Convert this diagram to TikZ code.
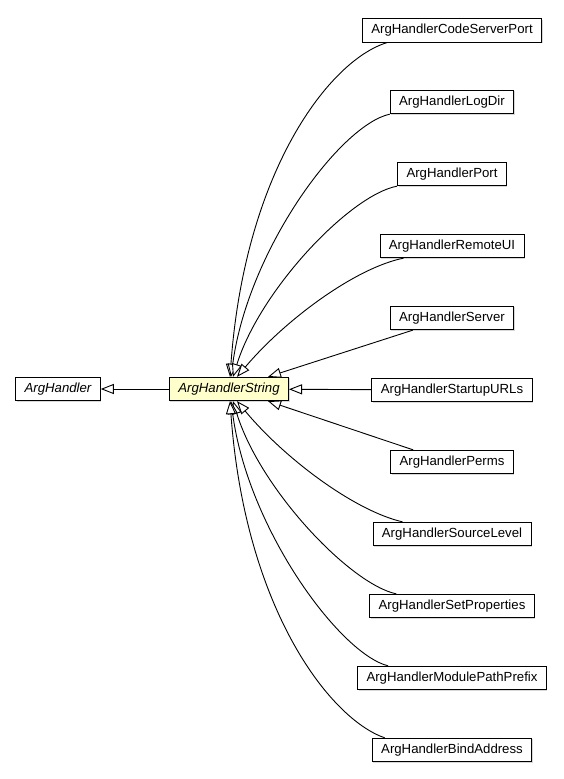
\documentclass[tikz,border=0pt]{standalone}
\usepackage{fontspec}
\setmainfont{Liberation Sans}
\usetikzlibrary{arrows.meta,shadows}
\definecolor{ifacefill}{HTML}{FFFFCC}
\tikzset{
  cls/.style = {draw, line width = .8, fill = white, inner xsep = 9pt, inner ysep = 0pt,
    minimum height = 23.5pt, font = \fontsize{13.2}{15}\selectfont,
    drop shadow = {shadow xshift = 1pt, shadow yshift = -1pt, fill = black!30}},
  inh/.style = {line width = .9, -{Triangle[open, fill = white, length = 13pt, width = 10pt]}}
}
\begin{document}
\begin{tikzpicture}[x = 1pt, y = -1pt]
\useasboundingbox (0,0) rectangle (563,779);
\node[cls, font = \fontsize{13.2}{15}\selectfont\itshape] (ah) at (58,389) {ArgHandler};
\node[cls, fill = ifacefill, font = \fontsize{13.2}{15}\selectfont\itshape] (str) at (229,389) {ArgHandlerString};
\foreach \n/\t/\y in {csp/CodeServerPort/30.5, logdir/LogDir/102, port/Port/174,
    remoteui/RemoteUI/246, server/Server/318, startup/StartupURLs/390, perms/Perms/462,
    srclevel/SourceLevel/534, setprops/SetProperties/606, modprefix/ModulePathPrefix/678,
    bindaddr/BindAddress/750} {
  \node[cls] (\n) at (452,\y) {ArgHandler\t};
}
\draw[inh] (str) -- (ah);
\draw[inh] (startup) -- (str);
% upper half
\draw[inh] ([xshift = 25pt]csp.south west) .. controls (330,60) and (245,170) .. ([xshift = 1pt]str.north);
\draw[inh] (logdir.south west) .. controls (340,125) and (248,250) .. ([xshift = 2pt]str.north);
\draw[inh] (port.south west) .. controls (350,195) and (260,290) .. ([xshift = 4pt]str.north);
\draw[inh] ([xshift = 24pt]remoteui.south west) .. controls (355,268) and (285,320) .. ([xshift = 8pt]str.north);
\draw[inh] ([xshift = 23pt]server.south west) -- ([xshift = 39pt]str.north);
% lower half
\draw[inh] ([xshift = 23pt]perms.north west) -- ([xshift = 39pt]str.south);
\draw[inh] ([xshift = 30pt]srclevel.north west) .. controls (355,511) and (285,459) .. ([xshift = 8pt]str.south);
\draw[inh] ([xshift = 27pt]setprops.north west) .. controls (350,584) and (260,489) .. ([xshift = 4pt]str.south);
\draw[inh] ([xshift = 31pt]modprefix.north west) .. controls (340,654) and (248,529) .. ([xshift = 2pt]str.south);
\draw[inh] ([xshift = 13pt]bindaddr.north west) .. controls (330,719) and (245,609) .. ([xshift = 1pt]str.south);
\end{tikzpicture}
\end{document}
